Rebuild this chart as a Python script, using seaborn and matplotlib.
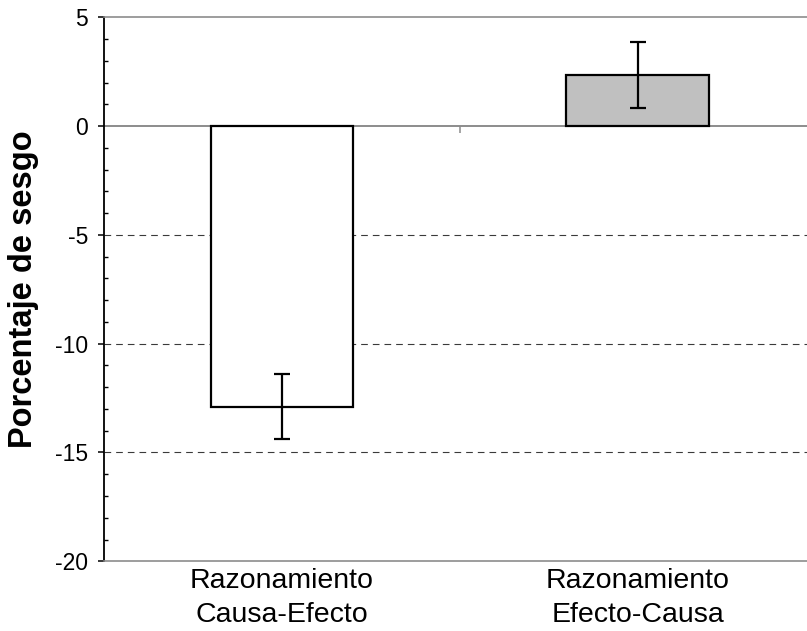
import matplotlib
matplotlib.use("Agg")
import matplotlib.pyplot as plt
from matplotlib.ticker import MultipleLocator, FixedLocator, NullFormatter
import numpy as np
import pandas as pd
import seaborn as sns

# ---- data ----
categories = ["Razonamiento\nCausa-Efecto", "Razonamiento\nEfecto-Causa"]
values = [-12.9, 2.35]
errors = [1.5, 1.5]
bar_colors = ["#FFFFFF", "#C0C0C0"]
y_ticks = [-20, -15, -10, -5, 0, 5]
dashed_levels = [-15, -10, -5]
y_label = "Porcentaje de sesgo"

sns.set_theme(style="white")
plt.rcParams["font.family"] = ["Liberation Sans", "DejaVu Sans"]
plt.rcParams["axes.unicode_minus"] = False

W, H = 807, 631
fig = plt.figure(figsize=(W / 100, H / 100), dpi=100)
ax = fig.add_axes([104 / W, 1 - 561.3 / H, 711.5 / W, (561.3 - 17.3) / H])

df = pd.DataFrame({"cat": categories, "val": values})
sns.barplot(data=df, x="cat", y="val", hue="cat", palette=bar_colors,
            legend=False, width=0.4, edgecolor="black", linewidth=1.6,
            errorbar=None, saturation=1, ax=ax, zorder=3)
ax.errorbar(x=np.arange(len(values)), y=values, yerr=errors, fmt="none",
            ecolor="black", elinewidth=1.6, capsize=5.6, capthick=1.6, zorder=4)

ax.set_xlim(-0.5, 1.5)
ax.set_ylim(y_ticks[0], y_ticks[-1])

# dashed grid lines
for lv in dashed_levels:
    ax.axhline(lv, color="#3a3a3a", lw=0.8, ls=(0, (6, 4.5)), zorder=1)
# zero axis line (grey)
ax.axhline(0, color="#8c8c8c", lw=1.4, zorder=2)

# spines
ax.spines["right"].set_visible(False)
for s in ("top", "bottom"):
    ax.spines[s].set_color("#8c8c8c")
    ax.spines[s].set_linewidth(1.2)
ax.spines["left"].set_color("black")
ax.spines["left"].set_linewidth(1.3)

# y ticks
ax.set_yticks(y_ticks)
ax.yaxis.set_minor_locator(MultipleLocator(1))
ax.tick_params(axis="y", which="major", left=True, direction="out", length=4.5,
               width=1.1, color="black", labelsize=16.5, pad=7, labelcolor="black")
ax.tick_params(axis="y", which="minor", left=True, direction="in", length=3,
               width=1.0, color="black")

# x tick labels at bottom
ax.set_xlabel("")
ax.tick_params(axis="x", which="both", bottom=False, length=0, labelsize=20.5,
               pad=5, labelcolor="black")
for lbl in ax.get_xticklabels():
    lbl.set_linespacing(1.4)

# tick between categories on the zero line, pointing down
sec = ax.secondary_xaxis((0 - y_ticks[0]) / (y_ticks[-1] - y_ticks[0]))
sec.set_alignment("bottom")
sec.xaxis.set_major_locator(FixedLocator([0.5]))
sec.xaxis.set_major_formatter(NullFormatter())
sec.tick_params(axis="x", direction="out", length=5, width=1.1, color="#8c8c8c")
for s in sec.spines.values():
    s.set_visible(False)

# y label
ax.set_ylabel(y_label, fontsize=23.5, fontweight="bold", color="black")
ax.yaxis.label.set_va("center")
ax.yaxis.set_label_coords((24 - 104) / 711.5, 0.5)

fig.savefig("out.png", dpi=100, facecolor="white")
